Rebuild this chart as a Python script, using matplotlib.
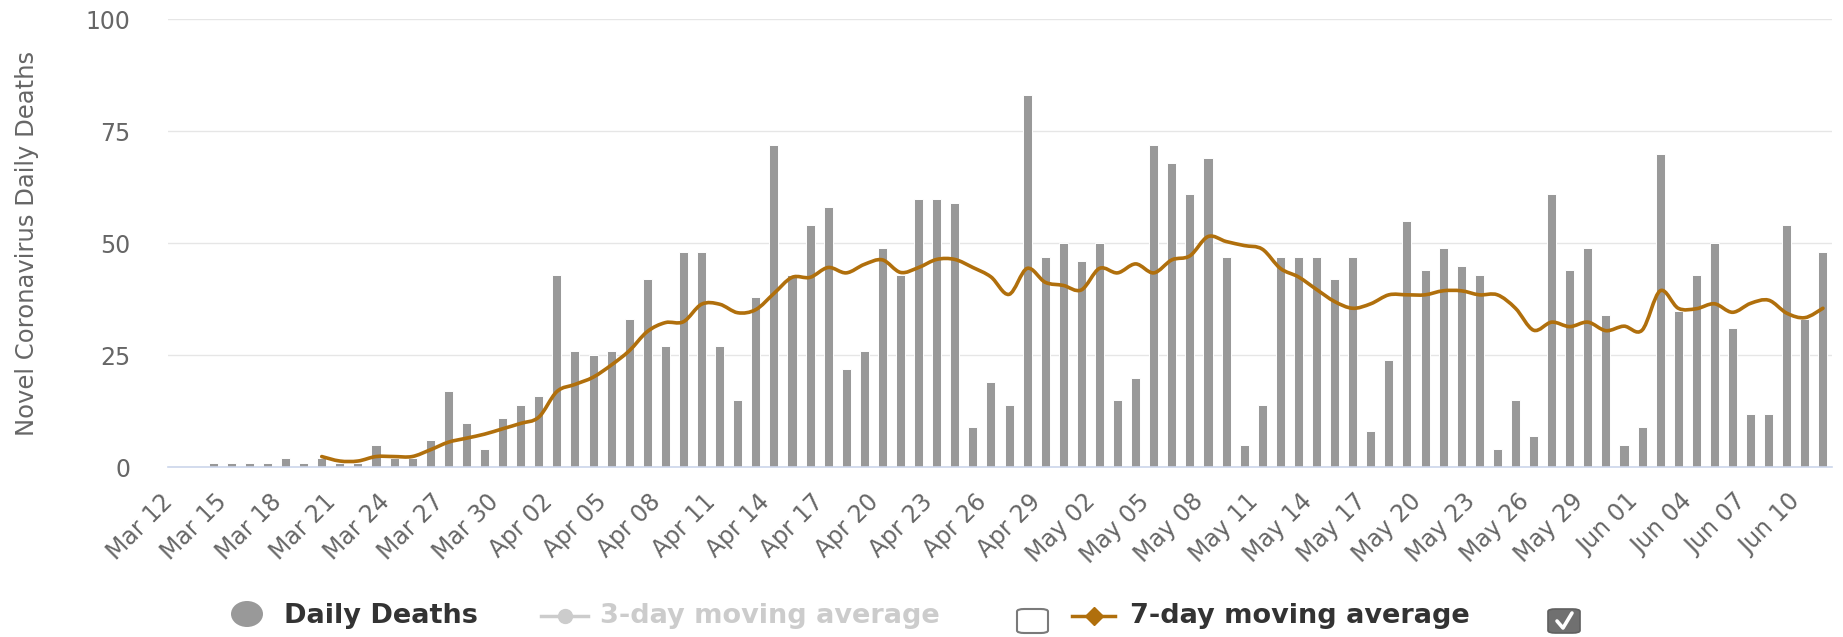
import numpy as np
import matplotlib
matplotlib.use("Agg")
import matplotlib.pyplot as plt
import matplotlib.transforms as mtransforms
from matplotlib.path import Path
from matplotlib.patches import PathPatch, Ellipse, FancyBboxPatch
from matplotlib.lines import Line2D

# Daily deaths, one value per day from Mar 12 to Jun 11
dates = (["Mar %02d" % d for d in range(12, 32)]
         + ["Apr %02d" % d for d in range(1, 31)]
         + ["May %02d" % d for d in range(1, 32)]
         + ["Jun %02d" % d for d in range(1, 12)])

deaths = [0, 0, 1, 1, 1, 1, 2, 1, 2, 1, 1, 5, 2, 2, 6, 17, 10, 4, 11, 14,
          16, 43, 26, 25, 26, 33, 42, 27, 48, 48, 27, 15, 38, 72, 43, 54, 58, 22, 26, 49,
          43, 60, 60, 59, 9, 19, 14, 83, 47, 50,
          46, 50, 15, 20, 72, 68, 61, 69, 47, 5, 14, 47, 47, 47, 42, 47, 8, 24, 55, 44,
          49, 45, 43, 4, 15, 7, 61, 44, 49, 34, 5,
          9, 70, 35, 43, 50, 31, 12, 12, 54, 33, 48]

# 7-day moving average, starting Mar 20
ma7_start = 8
ma7 = [2.4, 1.4, 1.4, 2.4, 2.4, 2.4, 3.9, 5.6, 6.5, 7.4, 8.6, 9.8,
       11.2, 16.9, 18.5, 20.1, 22.8, 26.0, 30.3, 32.3, 32.5, 36.4, 36.4, 34.5, 35.2, 38.8,
       42.4, 42.4, 44.6, 43.4, 45.3, 46.3, 43.5, 44.6, 46.4, 46.4, 44.6, 42.5, 38.6, 44.4,
       41.3, 40.6,
       39.6, 44.4, 43.4, 45.4, 43.4, 46.3, 47.2, 51.5, 50.4, 49.5, 48.7, 44.4, 42.5, 39.7,
       37.0, 35.5, 36.5, 38.5, 38.5, 38.5, 39.4, 39.4, 38.5, 38.5, 35.5, 30.6, 32.4, 31.4,
       32.4, 30.5, 31.5,
       30.6, 39.4, 35.5, 35.4, 36.5, 34.6, 36.6, 37.3, 34.4, 33.4, 35.5]

yticks = [0, 25, 50, 75, 100]

BAR = "#999999"
ORANGE = "#b06f0c"
GRID = "#e6e6e6"
LABEL = "#666666"

W, H = 1843, 637
fig = plt.figure(figsize=(W / 100, H / 100), dpi=100)


def fx(px):
    return px / W


def fy(py):
    return 1 - py / H


ax = fig.add_axes([fx(168), fy(467.3), (1832 - 168) / W, (467.3 - 19.3) / H])

x = np.arange(len(deaths))
ax.bar(x, deaths, width=0.5, color=BAR, edgecolor="white", linewidth=0.7, zorder=2)


def spline_path(xs, ys):
    # Catmull-Rom curve through the points, as cubic Bezier segments
    pts = np.column_stack([xs, ys])
    verts = [pts[0]]
    codes = [Path.MOVETO]
    n = len(pts)
    for i in range(n - 1):
        p0 = pts[max(i - 1, 0)]
        p1 = pts[i]
        p2 = pts[i + 1]
        p3 = pts[min(i + 2, n - 1)]
        verts += [p1 + (p2 - p0) / 6, p2 - (p3 - p1) / 6, p2]
        codes += [Path.CURVE4] * 3
    return Path(verts, codes)


ma_x = np.arange(ma7_start, ma7_start + len(ma7))
ax.add_patch(PathPatch(spline_path(ma_x, np.array(ma7)), fill=False, edgecolor=ORANGE,
                       lw=2.6, capstyle="round", joinstyle="round", zorder=3))

ax.set_xlim(-0.5, len(deaths) - 0.5)
ax.set_ylim(0, 100)
ax.set_yticks(yticks)
ax.set_yticklabels([str(v) for v in yticks])
ax.yaxis.grid(True, color=GRID, lw=1.0)
ax.set_axisbelow(True)
for side in ["top", "right", "left"]:
    ax.spines[side].set_visible(False)
ax.spines["bottom"].set_color("#ccd6eb")
ax.spines["bottom"].set_linewidth(1.2)

ax.tick_params(axis="y", length=0, pad=27, labelsize=17, labelcolor=LABEL)
ticks = list(range(0, len(dates), 3))
ax.set_xticks(ticks)
ax.set_xticklabels([dates[i] for i in ticks], rotation=45, ha="right", va="center",
                   rotation_mode="anchor", fontsize=17, color=LABEL)
ax.tick_params(axis="x", length=0, pad=22)
shift = mtransforms.ScaledTranslation(-0.08, 0, fig.dpi_scale_trans)
for lbl in ax.get_xticklabels():
    lbl.set_transform(lbl.get_transform() + shift)

fig.text(fx(27), fy(243), "Novel Coronavirus Daily Deaths", rotation=90, ha="center",
         va="center", fontsize=17.5, color=LABEL)

# legend row
ly = fy(616)
fig.patches.append(Ellipse((fx(247), fy(614)), 32 / W, 26 / H, transform=fig.transFigure,
                           facecolor=BAR, edgecolor="none"))
fig.text(fx(284), ly, "Daily Deaths", ha="left", va="center", fontsize=19.5,
         fontweight="bold", color="#333333")

fig.lines.append(Line2D([fx(541), fx(588)], [ly, ly], transform=fig.transFigure,
                        color="#cccccc", lw=2.5))
fig.lines.append(Line2D([fx(564.5)], [ly], transform=fig.transFigure, color="#cccccc",
                        marker="o", markersize=10, linestyle="none"))
fig.text(fx(600), ly, "3-day moving average", ha="left", va="center", fontsize=19.5,
         fontweight="bold", color="#cccccc")

fig.patches.append(FancyBboxPatch((fx(1017), fy(633)), 31 / W, 24 / H,
                                  boxstyle="round,pad=0,rounding_size=0.004",
                                  transform=fig.transFigure, facecolor="white",
                                  edgecolor="#7a7a7a", lw=1.5))

fig.lines.append(Line2D([fx(1072), fx(1115)], [ly, ly], transform=fig.transFigure,
                        color=ORANGE, lw=2.5))
fig.lines.append(Line2D([fx(1093.5)], [ly], transform=fig.transFigure, color=ORANGE,
                        marker="D", markersize=9, linestyle="none"))
fig.text(fx(1130), ly, "7-day moving average", ha="left", va="center", fontsize=19.5,
         fontweight="bold", color="#333333")

fig.patches.append(FancyBboxPatch((fx(1548), fy(633)), 32 / W, 24 / H,
                                  boxstyle="round,pad=0,rounding_size=0.004",
                                  transform=fig.transFigure, facecolor="#707070",
                                  edgecolor="#606060", lw=1.2))
fig.lines.append(Line2D([fx(1557), fx(1563), fx(1572)], [fy(621), fy(628), fy(613)],
                        transform=fig.transFigure, color="white", lw=2.6,
                        solid_capstyle="round", solid_joinstyle="round"))

fig.savefig("out.png", dpi=100, facecolor="white")
